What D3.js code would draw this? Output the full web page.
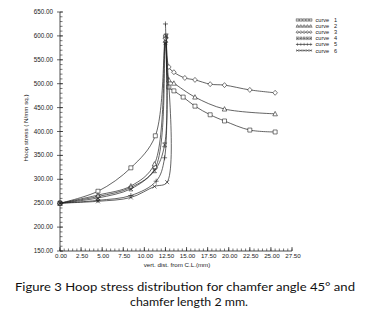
<!DOCTYPE html>
<html><head><meta charset="utf-8">
<script src="https://cdn.jsdelivr.net/npm/d3@7"></script>
<style>body{margin:0;background:#fff;} svg{display:block;}</style>
</head><body>
<svg id="c" width="371" height="313"></svg>
<script>
// ---- data ----
const curveNames = ["curve 1","curve 2","curve 3","curve 4","curve 5","curve 6"];
const curve1 = [[0,250],[4.5,275],[8.4,324],[11.3,391],[12.5,598],[12.9,493],[13.5,485],[14.6,472],[16,453],[17.8,435],[19.5,422],[22.5,403],[25.5,399]];
const curve2 = [[0,250],[4.5,267],[8.4,286],[11.2,332],[12.5,590],[12.9,508],[13.5,501],[16,472],[19.5,447],[25.5,437]];
const curve3 = [[0,250],[4.5,264],[8.4,283],[11.3,324],[12.5,595],[12.9,535],[13.5,524],[14.8,512],[16,508],[17.8,499],[19.5,497],[22.5,487],[25.5,481]];
const curve4 = [[0,250],[4.5,261],[8.4,280],[11.2,318],[12.4,372],[12.6,600]];
const curve5 = [[0,250],[4.5,256],[8.4,266],[11.4,296],[12.4,345],[12.5,625]];
const curve6 = [[0,250],[4.5,254],[8.4,262],[11.2,285],[12.7,294],[12.5,585]];
const series = [curve1,curve2,curve3,curve4,curve5,curve6];
const xTicks = [0,2.5,5,7.5,10,12.5,15,17.5,20,22.5,25,27.5];
const yTicks = [150,200,250,300,350,400,450,500,550,600,650];
const xTitle = "vert. dist. from C.L.(mm)";
const yTitle = "Hoop stress ( N/mm sq.)";
const caption1 = "Figure 3 Hoop stress distribution for chamfer angle 45° and";
const caption2 = "chamfer length 2 mm.";

const svg = d3.select("#c");
const x = d3.scaleLinear().domain([0,27.5]).range([60,292]);
const y = d3.scaleLinear().domain([150,650]).range([251,12]);
const ink = "#222";
const sans = "Liberation Sans, Arial, sans-serif";

// axes
const gx = svg.append("g").attr("transform","translate(0,251)");
gx.append("line").attr("x1",x(0)).attr("x2",x(27.5)).attr("stroke",ink).attr("stroke-width",0.8);
const xMinor = d3.range(0,27.5001,0.5);
gx.selectAll(".xm").data(xMinor).join("line").attr("x1",d=>x(d)).attr("x2",d=>x(d)).attr("y1",0).attr("y2",-2.5).attr("stroke",ink).attr("stroke-width",0.6);
gx.selectAll(".xM").data(xTicks).join("line").attr("x1",d=>x(d)).attr("x2",d=>x(d)).attr("y1",0).attr("y2",-4).attr("stroke",ink).attr("stroke-width",0.7);
gx.selectAll(".xl").data(xTicks).join("text").attr("x",d=>x(d)+1).attr("y",7).attr("text-anchor","middle")
  .attr("font-family",sans).attr("font-size",6.2).attr("fill",ink).text(d=>d.toFixed(2));

const gy = svg.append("g").attr("transform","translate(60,0)");
gy.append("line").attr("y1",y(150)).attr("y2",y(650)).attr("stroke",ink).attr("stroke-width",0.8);
const yMinor = d3.range(150,650.001,10);
gy.selectAll(".ym").data(yMinor).join("line").attr("x1",0).attr("x2",2.5).attr("y1",d=>y(d)).attr("y2",d=>y(d)).attr("stroke",ink).attr("stroke-width",0.6);
gy.selectAll(".yM").data(yTicks).join("line").attr("x1",-3).attr("x2",3).attr("y1",d=>y(d)).attr("y2",d=>y(d)).attr("stroke",ink).attr("stroke-width",0.7);
gy.selectAll(".yl").data(yTicks).join("text").attr("x",-7).attr("y",d=>y(d)+2).attr("text-anchor","end")
  .attr("font-family",sans).attr("font-size",6.3).attr("fill",ink).text(d=>d.toFixed(2));

// titles
svg.append("text").attr("x",177).attr("y",266.5).attr("text-anchor","middle")
  .attr("font-family",sans).attr("font-size",6.2).attr("fill",ink).text(xTitle);
svg.append("text").attr("transform","translate(28,128) rotate(-90)").attr("text-anchor","middle")
  .attr("font-family",sans).attr("font-size",6.2).attr("fill",ink).text(yTitle);

// caption
svg.append("text").attr("x",185).attr("y",291).attr("text-anchor","middle")
  .attr("font-family","Lato, 'Open Sans', sans-serif").attr("font-size",12).attr("fill","#111")
  .attr("textLength",340).attr("lengthAdjust","spacingAndGlyphs").text(caption1);
svg.append("text").attr("x",189).attr("y",306).attr("text-anchor","middle")
  .attr("font-family","Lato, 'Open Sans', sans-serif").attr("font-size",12).attr("fill","#111")
  .attr("textLength",118).attr("lengthAdjust","spacingAndGlyphs").text(caption2);

// markers
const S = 2;
const markerPaths = [
  `M${-S},${-S}H${S}V${S}H${-S}Z`,
  `M0,${-S-0.4}L${S+0.3},${S}H${-S-0.3}Z`,
  `M0,${-S-0.5}L${S+0.3},0L0,${S+0.5}L${-S-0.3},0Z`,
  `M${-S},${-S}H${S}L${-S},${S}H${S}Z`,
  `M${-S-0.5},0H${S+0.5}M0,${-S-0.5}V${S+0.5}`,
  `M${-S},${-S}L${S},${S}M${S},${-S}L${-S},${S}`
];

const lineCR = d3.line().x(d=>x(d[0])).y(d=>y(d[1])).curve(d3.curveCatmullRom.alpha(0.5));
series.forEach((s,i)=>{
  svg.append("path").attr("d",lineCR(s)).attr("fill","none").attr("stroke",ink).attr("stroke-width",0.7);
  svg.selectAll(null).data(s).join("path")
    .attr("transform",d=>`translate(${x(d[0])},${y(d[1])})`)
    .attr("d",markerPaths[i]).attr("fill",i===3?"none":"#fff").attr("fill-opacity",i>=4?0:1)
    .attr("stroke",ink).attr("stroke-width",0.6);
});

// legend
const lg = svg.append("g");
curveNames.forEach((n,i)=>{
  const yy = 20 + i*6.1;
  lg.append("line").attr("x1",296).attr("x2",312).attr("y1",yy).attr("y2",yy).attr("stroke",ink).attr("stroke-width",0.5);
  d3.range(5).forEach(k=>{
    lg.append("path").attr("transform",`translate(${297.5+k*3.3},${yy}) scale(0.65)`).attr("d",markerPaths[i])
      .attr("fill","none").attr("stroke",ink).attr("stroke-width",0.6);
  });
  lg.append("text").attr("x",315.5).attr("y",yy+2).attr("font-family",sans)
    .attr("font-size",5.6).attr("fill",ink).text(n.split(" ")[0]);
  lg.append("text").attr("x",334).attr("y",yy+2).attr("font-family",sans)
    .attr("font-size",5.6).attr("fill",ink).text(n.split(" ")[1]);
});
</script>
</body></html>
